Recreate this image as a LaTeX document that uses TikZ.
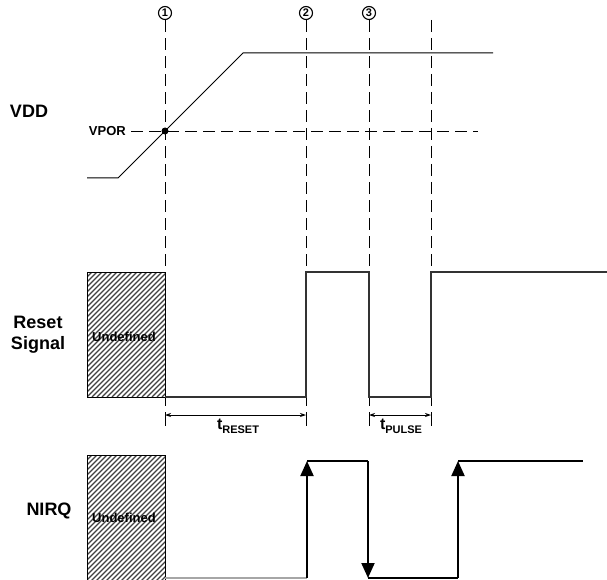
\documentclass[tikz,border=0pt]{standalone}
\usepackage{fontspec}
\setmainfont{Liberation Sans}
\usetikzlibrary{arrows.meta}
\newcommand{\myhatch}[4]{%
  \begin{scope}
    \clip (#1,#2) rectangle (#3,#4);
    \foreach \k in {-150,-145,...,90} {
      \draw[line width=1.2pt, black!75] (#1+\k,#4) -- ++(160,-160);
    }
  \end{scope}
  \draw[line width=0.8pt] (#1,#4) -- (#1,#2) -- (#3,#2) -- (#3,#4) -- cycle;
}
\begin{document}
\begin{tikzpicture}[x=1pt,y=-1pt,
  lbl/.style={font=\fontsize{18}{21}\selectfont\bfseries, align=center, inner sep=0},
  small/.style={font=\fontsize{13}{13}\selectfont\bfseries, inner sep=0},
  undef/.style={font=\fontsize{13}{13}\selectfont\bfseries, inner sep=0},
  guide/.style={dash pattern=on 12pt off 6pt, line width=0.9pt},
  sig/.style={line width=1pt},
  rsig/.style={line width=1.1pt, draw=black!80},
  nirq/.style={line width=2pt},
  upar/.style={-{Triangle[length=15pt,width=13pt]}},
  dim/.style={{Stealth[length=6pt,width=4pt]}-{Stealth[length=6pt,width=4pt]}, line width=0.8pt},
  num/.style={circle, draw, line width=1.1pt, minimum size=13pt, inner sep=0, font=\fontsize{11}{11}\selectfont\bfseries},
  tlab/.style={font=\fontsize{16}{16}\selectfont\bfseries, inner sep=0}
]
\useasboundingbox (0,0) rectangle (607,580);

% numbered markers and guide lines
\node[num] (c1) at (165,13) {1};
\node[num] (c2) at (306,13) {2};
\node[num] (c3) at (369,13) {3};
\coordinate (c4) at (431,20);
\coordinate (b1) at (165,406);
\coordinate (b2) at (306,406);
\coordinate (b3) at (369,406);
\coordinate (b4) at (431,406);
\draw[guide] (c1.south) -- (b1);
\draw[guide] (c2.south) -- (b2);
\draw[guide] (c3.south) -- (b3);
\draw[guide] (c4) -- (b4);

% VDD
\node[lbl] (vdd) at (29,111) {VDD};
\node[small, anchor=east] (vpor) at (126,131) {VPOR};
\coordinate (vporend) at (478,131);
\draw[guide] (vpor.east) ++(5,0) coordinate (vporstart) -- (vporend);
\coordinate (v0) at (87,178);
\coordinate (v1) at (118,178);
\coordinate (v2) at (243,53);
\coordinate (v3) at (493,53);
\draw[sig] (v0) -- (v1) -- (v2) -- (v3);
\fill (165,131) circle (3.5pt);

% Reset signal
\node[lbl] (rst) at (38,335) {Reset\\Signal};
\myhatch{87}{272}{165}{397}
\node[undef] (u1) at (124,337) {Undefined};
\coordinate (r0) at (165,397);
\coordinate (r1) at (306,397);
\coordinate (r2) at (306,272);
\coordinate (r3) at (369,272);
\coordinate (r4) at (369,397);
\coordinate (r5) at (431,397);
\coordinate (r6) at (431,272);
\coordinate (r7) at (607,272);
\draw[rsig] (r0) -- (r1) -- (r2) -- (r3) -- (r4) -- (r5) -- (r6) -- (r7);

% dimensions
\coordinate (d1) at (165,415);
\coordinate (d2) at (306,415);
\coordinate (d3) at (369,415);
\coordinate (d4) at (431,415);
\foreach \p in {d1,d2,d3,d4} { \draw[line width=0.8pt] (\p) ++(0,-3) -- ++(0,14); }
\draw[dim] (d1) -- (d2);
\draw[dim] (d3) -- (d4);
\node[tlab] (tr) at (238,426) {t\raisebox{-4pt}{\fontsize{11}{11}\selectfont RESET}};
\node[tlab] (tp) at (401,426) {t\raisebox{-4pt}{\fontsize{11}{11}\selectfont PULSE}};

% NIRQ
\node[lbl] (nirq) at (49,511) {NIRQ};
\myhatch{87}{455}{165}{585}
\node[undef] (u2) at (124,518) {Undefined};
\coordinate (n0) at (165,578);
\coordinate (n1) at (307,578);
\coordinate (n2) at (307,461);
\coordinate (n3) at (368,461);
\coordinate (n4) at (368,578);
\coordinate (n5) at (458,578);
\coordinate (n6) at (458,461);
\coordinate (n7) at (583,461);
\draw[line width=1.5pt, gray!70] (n0) -- (n1);
\draw[nirq, upar] (n1) -- (n2);
\draw[nirq] (n2) -- (n3);
\draw[nirq, upar] (n3) -- (n4);
\draw[nirq] (n4) -- (n5);
\draw[nirq, upar] (n5) -- (n6);
\draw[nirq] (n6) -- (n7);
\end{tikzpicture}
\end{document}
